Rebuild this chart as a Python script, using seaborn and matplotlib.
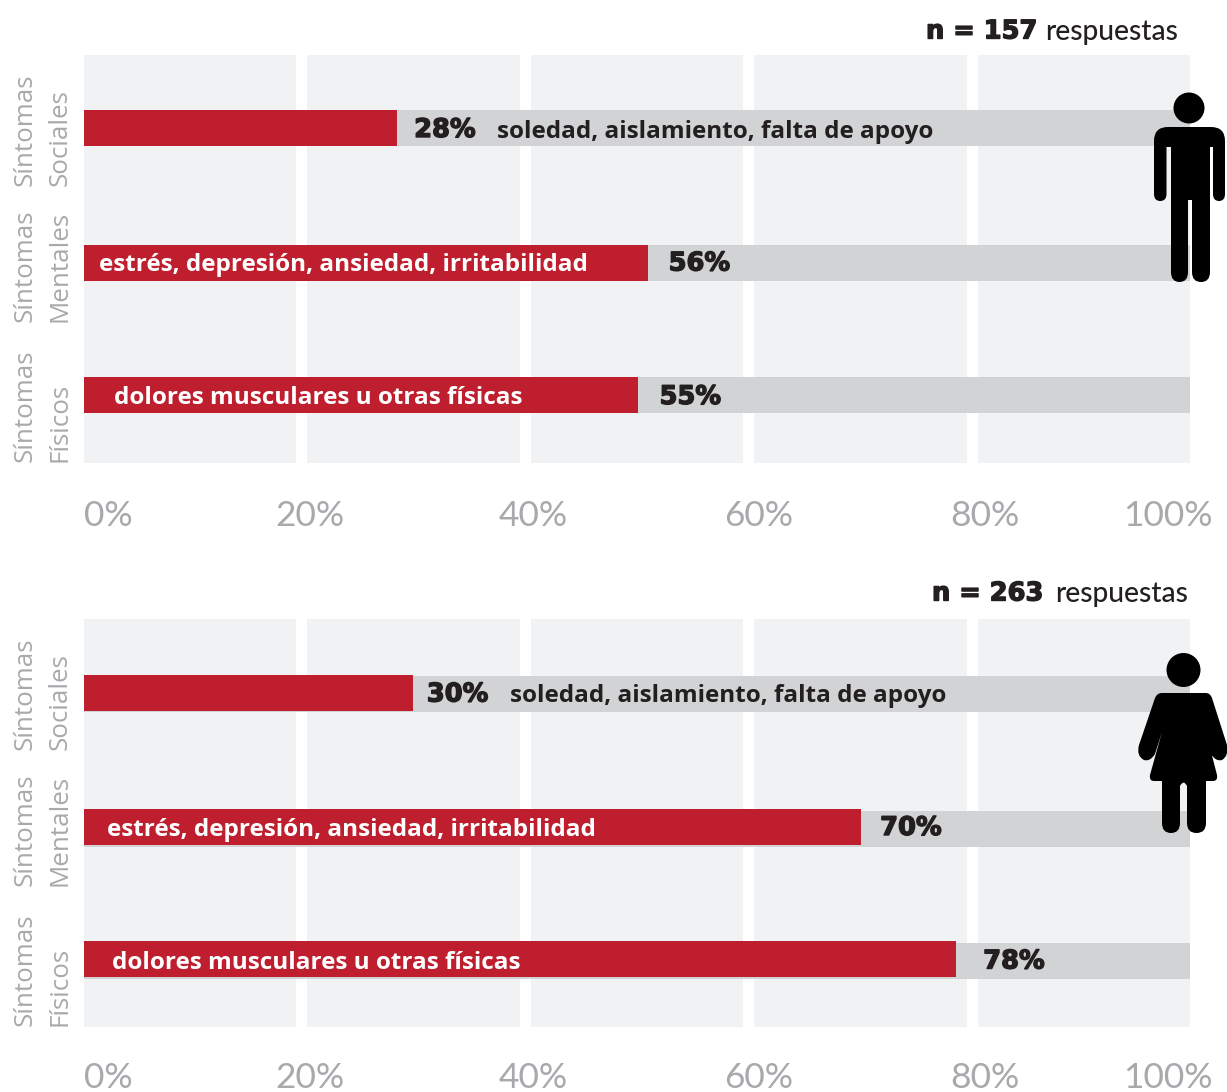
import matplotlib
matplotlib.use('Agg')
import matplotlib.pyplot as plt
import matplotlib.patheffects as pe
import seaborn as sns
from matplotlib.patches import Circle, PathPatch
from matplotlib.path import Path

W, H = 1227, 1092

categories = ['Síntomas\nSociales', 'Síntomas\nMentales', 'Síntomas\nFísicos']
descriptions = ['soledad, aislamiento, falta de apoyo',
                'estrés, depresión, ansiedad, irritabilidad',
                'dolores musculares u otras físicas']
totals = [100, 100, 100]
tick_values = [0, 20, 40, 60, 80, 100]
tick_labels = ['0%', '20%', '40%', '60%', '80%', '100%']

# bar lengths as drawn in the picture, labels as printed (they do not always agree)
men_bars = [28.6, 51, 50.1]
men_labels = ['28%', '56%', '55%']
women_bars = [30, 70.1, 78.6]
women_labels = ['30%', '70%', '78%']

RED = '#be1e2d'
GREY = '#d1d3d4'
PANEL = '#f1f2f4'
MUTED = '#a7a9ac'
DARK = '#231f20'
# wide heavy look of the percentages, DejaVu bold with a thin stroke
HEAVY = dict(family='DejaVu Sans', weight='bold',
             path_effects=[pe.withStroke(linewidth=1.0, foreground=DARK)])
BODY = dict(family=['Open Sans', 'DejaVu Sans'], weight='bold')

sns.set_theme(style='white')
fig = plt.figure(figsize=(W / 100, H / 100), dpi=100)


def nudge(container, offsets):
    # small per-bar shifts in pixels, the original bars are hand placed
    for bar, off in zip(container, offsets):
        bar.set_y(bar.get_y() + off / 133.5)


def draw_panel(top, bottom, first_y, bars, labels, grey_off, red_off, pct_dx, desc_dx, y_bottoms, tick_dx,
               base, tick_base):
    ax = fig.add_axes([84 / W, 1 - bottom / H, (1190 - 84) / W, (bottom - top) / H])
    ax.set_facecolor(PANEL)
    sns.barplot(y=categories, x=totals, color=GREY, saturation=1, width=0.27, orient='h', ax=ax, zorder=2,
                linewidth=0, edgecolor='none')
    sns.barplot(y=categories, x=bars, color=RED, saturation=1, width=0.27, orient='h', ax=ax, zorder=3,
                linewidth=0, edgecolor='none')
    nudge(ax.containers[0], grey_off)
    nudge(ax.containers[1], red_off)

    ax.set_xlim(0.59, 99.51)
    ax.set_ylim((bottom - first_y) / 133.5, -(first_y - top) / 133.5)
    ax.set_xticks([20, 40, 60, 80])
    ax.set_xticklabels([])
    ax.set_yticks([])
    ax.set_xlabel('')
    ax.set_ylabel('')
    ax.tick_params(length=0)
    ax.set_axisbelow(True)
    ax.grid(axis='x', color='white', lw=11 * 0.72)
    sns.despine(ax=ax, left=True, bottom=True)

    for i, (val, lab) in enumerate(zip(bars, labels)):
        ax.annotate(lab, xy=(val, i), xytext=(pct_dx[i], base + 2), textcoords='offset pixels',
                    color=DARK, fontsize=18.5, ha='left', va='baseline', zorder=5, **HEAVY)
        if i == 0:
            ax.annotate(descriptions[i], xy=(val, i), xytext=(desc_dx[i], base + 1.5), textcoords='offset pixels',
                        color=DARK, fontsize=17.5, ha='left', va='baseline', zorder=5, **BODY)
        else:
            ax.annotate(descriptions[i], xy=(0, i), xytext=(desc_dx[i], base + 1.5), textcoords='offset pixels',
                        color='white', fontsize=17.5, ha='left', va='baseline', zorder=5,
                        annotation_clip=False, **BODY)

    for v, lab, dx in zip(tick_values, tick_labels, tick_dx):
        ax.annotate(lab, xy=(v, 0), xycoords=('data', 'axes fraction'), xytext=(dx, tick_base),
                    textcoords='offset pixels', color=MUTED, fontsize=25.5, ha='center', va='baseline',
                    family=['Lato', 'DejaVu Sans'], annotation_clip=False)

    for cat, yb in zip(categories, y_bottoms):
        fig.text(42.5 / W, 1 - yb / H, cat, rotation=90, ha='center', va='bottom', ma='left',
                 color=MUTED, fontsize=18.7, linespacing=1.5,
                 family=['Open Sans', 'DejaVu Sans'])
    return ax


draw_panel(55, 463, 128, men_bars, men_labels,
           [0, 1.5, 0], [0, 1.5, 0],
           [17, 21, 22], [100, 22, 37],
           [186, 321.5, 462], [30.5, 9, 8.5, 10.5, 13, -27.5], -11, -63)
draw_panel(619, 1027, 694, women_bars, women_labels,
           [0, 1.5, 0], [-1, -0.5, -2],
           [14, 19, 27], [97, 30, 35],
           [750, 886, 1026], [30.5, 9, 8.5, 10.5, 13, -27.5], -9.5, -61)

# overlay in pixel coordinates for header texts and pictograms
over = fig.add_axes([0, 0, 1, 1], zorder=10)
over.set_xlim(0, W)
over.set_ylim(H, 0)
over.axis('off')
over.patch.set_alpha(0)

for x_n, x_r, y, n in [(926, 1045, 40, '157'), (932, 1055, 602, '263')]:
    over.text(x_n, y - 1.5, 'n = ' + n, color=DARK, fontsize=18.5, ha='left', va='baseline', **HEAVY)
    over.text(x_r, y, 'respuestas', color=DARK, fontsize=20.3, ha='left', va='baseline',
              family=['Lato', 'DejaVu Sans'], weight='medium')

M, L, C3 = Path.MOVETO, Path.LINETO, Path.CURVE3


def outline(steps):
    verts, codes = [], []
    for code, pt in steps:
        verts.append(pt)
        codes.append(code)
    verts.append(steps[0][1])
    codes.append(Path.CLOSEPOLY)
    return Path(verts, codes)


def cap(x1, x2, y, down=5):
    # round end going from x1 to x2 at height y
    mid = (x1 + x2) / 2
    return [(C3, (x1, y + down)), (C3, (mid, y + down)), (C3, (x2, y + down)), (C3, (x2, y))]


man = [(M, (1168, 127)), (L, (1211, 127)), (C3, (1225, 127)), (C3, (1225, 141)), (L, (1225, 194))]
man += cap(1225, 1213, 194, 7) + [(L, (1213, 147)), (L, (1210, 147)), (L, (1210, 272))]
man += cap(1210, 1192, 272, 10) + [(L, (1192, 200)), (L, (1188, 200)), (L, (1188, 272))]
man += cap(1188, 1171, 272, 10) + [(L, (1171, 147)), (L, (1166.5, 147)), (L, (1166.5, 194))]
man += cap(1166.5, 1154, 194, 7) + [(L, (1154, 141)), (C3, (1154, 127)), (C3, (1168, 127))]

woman = [(M, (1162, 693)), (L, (1206, 693)), (C3, (1210, 693)), (C3, (1212, 698)), (L, (1227, 745))]
woman += [(C3, (1229, 756)), (C3, (1222, 760)), (C3, (1216, 762)), (C3, (1211, 754))]
woman += [(L, (1206, 732)), (L, (1217, 775)), (C3, (1218, 781)), (C3, (1213, 781)), (L, (1206, 781)), (L, (1206, 823))]
woman += cap(1206, 1187, 823, 10) + [(L, (1187, 786)), (C3, (1183.5, 779)), (C3, (1180, 786)), (L, (1180, 823))]
woman += cap(1180, 1162, 823, 10) + [(L, (1162, 781)), (L, (1154, 781)), (C3, (1149, 781)), (C3, (1150, 775)),
                                     (L, (1162, 732)), (L, (1155, 754)), (C3, (1150, 762)), (C3, (1144, 760)),
                                     (C3, (1136, 756)), (C3, (1139, 745)), (L, (1155, 698)), (C3, (1157, 693)),
                                     (C3, (1162, 693))]

over.add_patch(Circle((1189, 108), 15.5, color='black', lw=0))
over.add_patch(PathPatch(outline(man), color='black', lw=0))
over.add_patch(Circle((1183.5, 670), 17, color='black', lw=0))
over.add_patch(PathPatch(outline(woman), color='black', lw=0))

fig.savefig('out.png', dpi=100)
